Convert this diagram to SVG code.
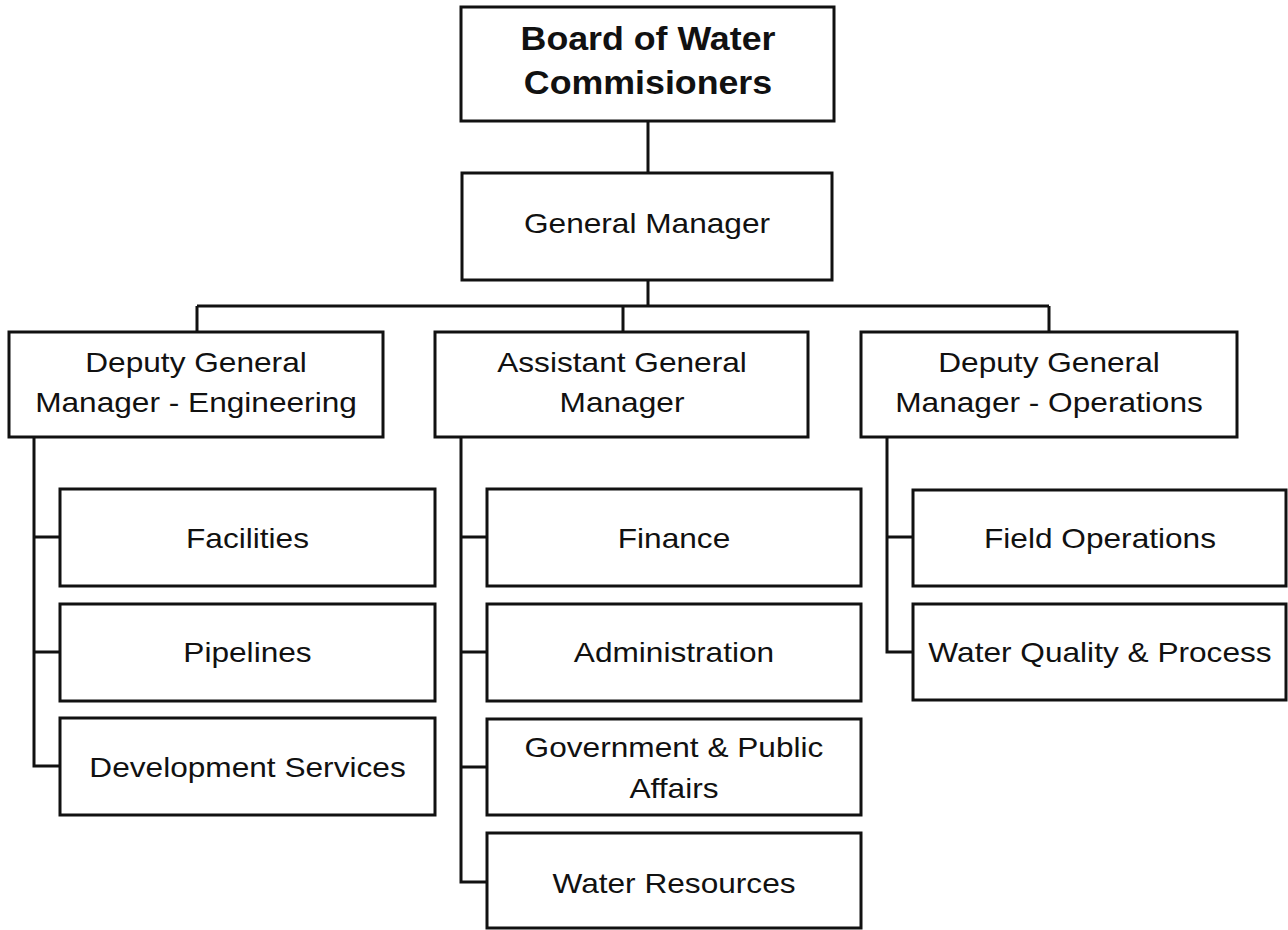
<svg xmlns="http://www.w3.org/2000/svg" width="1288" height="930" viewBox="0 0 1288 930">
<style>
.box{fill:#fff;stroke:#111;stroke-width:3}
.ln{fill:none;stroke:#111;stroke-width:3}
.t{font-family:"Liberation Sans",Arial,sans-serif;font-size:28px;fill:#111;text-anchor:middle}
.b{font-weight:bold;font-size:32.5px}
</style>
<rect width="1288" height="930" fill="#fff"/>
<g id="connectors">
<path class="ln" d="M648 121V173M648 280V306M197 306H1049M197 306V332M623 306V332M1049 306V332"/>
<path class="ln" d="M34 437V766H60M34 537H60M34 652H60"/>
<path class="ln" d="M461 437V882H487M461 537H487M461 652H487M461 767H487"/>
<path class="ln" d="M887 437V652H913M887 537H913"/>
</g>
<g id="board"><rect class="box" x="461" y="7" width="373" height="114"/>
<text class="t b" transform="matrix(1.1 0 0 1 648 0)" x="0" y="50">Board of Water</text>
<text class="t b" transform="matrix(1.1 0 0 1 648 0)" x="0" y="94">Commisioners</text></g>
<g id="gm"><rect class="box" x="462" y="173" width="370" height="107"/>
<text class="t" transform="matrix(1.13 0 0 1 647 0)" x="0" y="233">General Manager</text></g>
<g id="dgm-eng"><rect class="box" x="9" y="332" width="374" height="105"/>
<text class="t" transform="matrix(1.13 0 0 1 196 0)" x="0" y="372">Deputy General</text>
<text class="t" transform="matrix(1.13 0 0 1 196 0)" x="0" y="412">Manager - Engineering</text></g>
<g id="agm"><rect class="box" x="435" y="332" width="373" height="105"/>
<text class="t" transform="matrix(1.13 0 0 1 622 0)" x="0" y="372">Assistant General</text>
<text class="t" transform="matrix(1.13 0 0 1 622 0)" x="0" y="412">Manager</text></g>
<g id="dgm-ops"><rect class="box" x="861" y="332" width="376" height="105"/>
<text class="t" transform="matrix(1.13 0 0 1 1049 0)" x="0" y="372">Deputy General</text>
<text class="t" transform="matrix(1.13 0 0 1 1049 0)" x="0" y="412">Manager - Operations</text></g>
<g id="facilities"><rect class="box" x="60" y="489" width="375" height="97"/>
<text class="t" transform="matrix(1.13 0 0 1 247.5 0)" x="0" y="548">Facilities</text></g>
<g id="pipelines"><rect class="box" x="60" y="604" width="375" height="97"/>
<text class="t" transform="matrix(1.13 0 0 1 247.5 0)" x="0" y="662">Pipelines</text></g>
<g id="devservices"><rect class="box" x="60" y="718" width="375" height="97"/>
<text class="t" transform="matrix(1.13 0 0 1 247.5 0)" x="0" y="777">Development Services</text></g>
<g id="finance"><rect class="box" x="487" y="489" width="374" height="97"/>
<text class="t" transform="matrix(1.13 0 0 1 674 0)" x="0" y="548">Finance</text></g>
<g id="admin"><rect class="box" x="487" y="604" width="374" height="97"/>
<text class="t" transform="matrix(1.13 0 0 1 674 0)" x="0" y="662">Administration</text></g>
<g id="govpub"><rect class="box" x="487" y="719" width="374" height="96"/>
<text class="t" transform="matrix(1.13 0 0 1 674 0)" x="0" y="757">Government &amp; Public</text>
<text class="t" transform="matrix(1.13 0 0 1 674 0)" x="0" y="798">Affairs</text></g>
<g id="waterres"><rect class="box" x="487" y="833" width="374" height="95"/>
<text class="t" transform="matrix(1.13 0 0 1 674 0)" x="0" y="893">Water Resources</text></g>
<g id="fieldops"><rect class="box" x="913" y="490" width="373" height="96"/>
<text class="t" transform="matrix(1.13 0 0 1 1100 0)" x="0" y="548">Field Operations</text></g>
<g id="wqp"><rect class="box" x="913" y="604" width="373" height="96"/>
<text class="t" transform="matrix(1.13 0 0 1 1100 0)" x="0" y="662">Water Quality &amp; Process</text></g>
</svg>
